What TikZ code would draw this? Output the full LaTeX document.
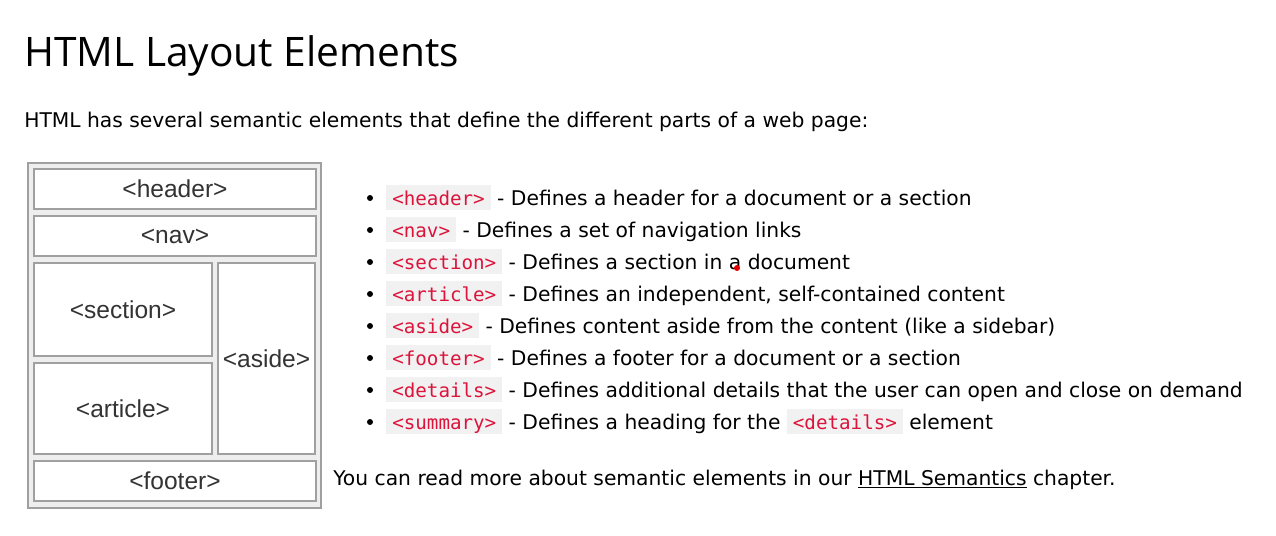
\documentclass[tikz,border=0pt]{standalone}
\usepackage{fontspec}
\setmainfont{DejaVu Sans}
\newfontfamily\titlefont{Open Sans}
\newfontfamily\codefont{DejaVu Sans Mono}
\newfontfamily\partfont{Liberation Sans}
\usepackage{xcolor}
\usepackage{tikz}
\usetikzlibrary{positioning}
\definecolor{codered}{RGB}{220,20,60}
\definecolor{codebg}{RGB}{241,241,241}
\definecolor{boxline}{RGB}{160,160,160}
\definecolor{boxbg}{RGB}{238,238,238}
\definecolor{partgray}{RGB}{51,51,51}
\newcommand{\px}{0.75pt}
\newcommand{\tagcode}[1]{{\setlength{\fboxsep}{0pt}\colorbox{codebg}{\hspace{4.5pt}\rule[-3.75pt]{0pt}{18.75pt}\textcolor{codered}{\codefont\fontsize{14.4}{14}\selectfont #1}\hspace{4.5pt}}}}
\tikzset{
  pagebox/.style={draw=boxline, fill=boxbg, line width=2*\px, inner sep=0pt},
  partbox/.style={draw=boxline, fill=white, line width=2*\px, inner sep=0pt,
                  font=\partfont\fontsize{18.4}{20}\selectfont, text=partgray},
  bodytext/.style={anchor=base west, inner sep=0pt, font=\fontsize{15.2}{18}\selectfont},
  titletext/.style={anchor=base west, inner sep=0pt, font=\titlefont\fontsize{30.5}{36}\selectfont}
}

\begin{document}
\begin{tikzpicture}[x=0.75pt, y=-0.75pt]
  \useasboundingbox (0,0) rectangle (1276,535);

  %% Heading
  \node[titletext] (title) at (24,66) {HTML Layout Elements};
  \node[bodytext] (intro) at (24,127)
       {HTML has several semantic elements that define the different parts of a web page:};

  %% Left: page layout sketch
  \node[pagebox, minimum width=293*\px, minimum height=345*\px] (page) at (174.5,335.5) {};
  \node[partbox, minimum width=282*\px, minimum height=40*\px] (header) at (175,189) {<header>};
  \node[partbox, minimum width=282*\px, minimum height=40*\px] (nav) at (175,236) {<nav>};
  \node[partbox, minimum width=178*\px, minimum height=93*\px] (section) at (123,309.5) {<section>};
  \node[partbox, minimum width=178*\px, minimum height=91*\px] (article) at (123,408.5) {<article>};
  \node[partbox, minimum width=97*\px, minimum height=191*\px] (aside) at (266.5,358.5) {<aside>};
  \node[partbox, minimum width=282*\px, minimum height=40*\px] (footer) at (175,481) {<footer>};

  %% Right: list of elements
  \foreach \tag/\desc [count=\i from 0] in {
      header/{Defines a header for a document or a section},
      nav/{Defines a set of navigation links},
      section/{Defines a section in a document},
      article/{Defines an independent, self-contained content},
      aside/{Defines content aside from the content (like a sidebar)},
      footer/{Defines a footer for a document or a section},
      details/{Defines additional details that the user can open and close on demand},
      summary/{Defines a heading for the \tagcode{<details>} element}}{
    \fill (370,198+32*\i) circle (3);
    \node[bodytext] (item\i) at (386,205+32*\i) {\tagcode{<\tag>} - \desc};
  }
  % stray red mark
  \fill[red!90!black] (737,268) circle (3);

  \node[bodytext] (more) at (333,485)
       {You can read more about semantic elements in our \underline{HTML Semantics} chapter.};
\end{tikzpicture}
\end{document}
